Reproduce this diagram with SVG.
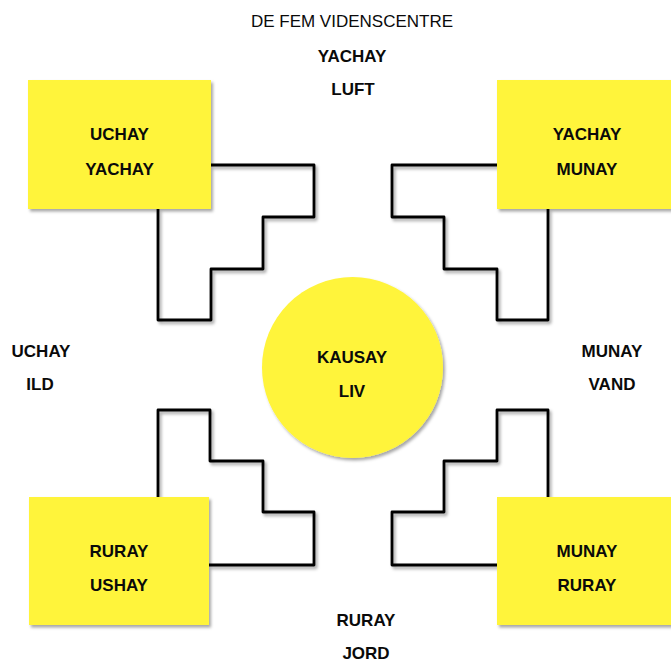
<svg xmlns="http://www.w3.org/2000/svg" width="671" height="662" viewBox="0 0 671 662">
  <defs>
    <filter id="shadow" x="-10%" y="-10%" width="130%" height="130%">
      <feDropShadow dx="2" dy="2.5" stdDeviation="1.5" flood-color="#000" flood-opacity="0.35"/>
    </filter>
  </defs>
  <style>
    .box { fill: #fff43a; filter: url(#shadow); }
    .step { fill: none; stroke: #000; stroke-width: 2.8; stroke-linejoin: round; filter: url(#shadow); }
    text { font-family: "Liberation Sans", Arial, sans-serif; text-anchor: middle; fill: #0a0a0a; }
    .b { font-weight: bold; font-size: 17px; }
    .title { font-size: 17px; }
  </style>

  <rect width="671" height="662" fill="#fff"/>

  <!-- stepped connectors between corner boxes and the centre -->
  <g id="connectors">
    <path class="step" d="M211,165 H314 V217 H263 V269 H211 V320 H158 V209"/>
    <path class="step" d="M497,165 H392 V217 H444 V269 H497 V320 H548 V209"/>
    <path class="step" d="M158,497 V410 H210 V461 H263 V512 H314 V565 H209"/>
    <path class="step" d="M548,497 V410 H497 V461 H444 V512 H392 V565 H497"/>
  </g>

  <!-- outer labels -->
  <g id="label-top">
    <text class="title" x="352" y="27">DE FEM VIDENSCENTRE</text>
    <text class="b" x="352" y="62">YACHAY</text>
    <text class="b" x="353" y="95">LUFT</text>
  </g>
  <g id="label-left">
    <text class="b" x="41" y="357">UCHAY</text>
    <text class="b" x="40" y="390">ILD</text>
  </g>
  <g id="label-right">
    <text class="b" x="612" y="357">MUNAY</text>
    <text class="b" x="612" y="390">VAND</text>
  </g>
  <g id="label-bottom">
    <text class="b" x="366" y="626">RURAY</text>
    <text class="b" x="366" y="659">JORD</text>
  </g>

  <!-- corner nodes -->
  <g id="node-uchay-yachay">
    <rect class="box" x="28" y="80" width="183" height="129"/>
    <text class="b" x="119.5" y="140">UCHAY</text>
    <text class="b" x="119.5" y="175">YACHAY</text>
  </g>
  <g id="node-yachay-munay">
    <rect class="box" x="497" y="80" width="183" height="129"/>
    <text class="b" x="587" y="140">YACHAY</text>
    <text class="b" x="587" y="175">MUNAY</text>
  </g>
  <g id="node-ruray-ushay">
    <rect class="box" x="29" y="497" width="180" height="128"/>
    <text class="b" x="119" y="557">RURAY</text>
    <text class="b" x="119" y="591">USHAY</text>
  </g>
  <g id="node-munay-ruray">
    <rect class="box" x="497" y="497" width="183" height="128"/>
    <text class="b" x="587" y="557">MUNAY</text>
    <text class="b" x="587" y="591">RURAY</text>
  </g>

  <!-- centre node -->
  <g id="node-kausay">
    <circle class="box" cx="352.5" cy="367.5" r="90.5"/>
    <text class="b" x="352" y="363">KAUSAY</text>
    <text class="b" x="352" y="397">LIV</text>
  </g>
</svg>
